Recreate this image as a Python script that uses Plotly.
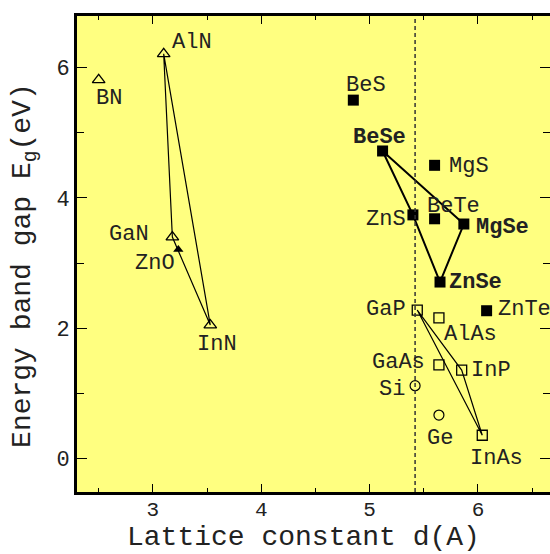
import plotly.graph_objects as go

# ---- data (lattice constant d in Angstrom, band gap Eg in eV) ----
nitride_names = ["BN", "AlN", "GaN", "InN"]
nitride_d = [2.50, 3.10, 3.18, 3.53]
nitride_eg = [5.81, 6.21, 3.40, 2.05]

zno_names = ["ZnO"]
zno_d = [3.235]
zno_eg = [3.21]

iivi_names = ["BeS", "BeSe", "MgS", "BeTe", "ZnS", "MgSe", "ZnSe", "ZnTe"]
iivi_d = [4.85, 5.12, 5.60, 5.60, 5.40, 5.87, 5.65, 6.08]
iivi_eg = [5.50, 4.72, 4.50, 3.68, 3.74, 3.60, 2.71, 2.27]

iiiv_names = ["GaP", "AlAs", "GaAs", "InP", "InAs"]
iiiv_d = [5.44, 5.64, 5.64, 5.85, 6.04]
iiiv_eg = [2.28, 2.16, 1.44, 1.36, 0.36]

elem_names = ["Si", "Ge"]
elem_d = [5.42, 5.64]
elem_eg = [1.12, 0.67]

si_lattice = 5.42

# polygons (by compound name)
nitride_poly = ["AlN", "GaN", "InN", "AlN"]
iivi_poly = ["BeSe", "ZnS", "ZnSe", "MgSe", "BeSe"]
iiiv_poly = ["GaP", "InP", "InAs", "GaP"]

bold_labels = {"BeSe", "MgSe", "ZnSe"}

x_title = "Lattice constant d(A)"
y_title = "Energy band gap E<sub>g</sub>(eV)"

x_range = [2.30, 6.665]
y_range = [-0.51, 6.79]

# label placement: (xanchor, xshift px, yshift px)
label_pos = {
    "BN": ("left", -5, -19),
    "AlN": ("left", 6, 11),
    "GaN": ("right", -21, 3),
    "ZnO": ("right", -1, -14),
    "InN": ("center", 7, -19),
    "BeS": ("center", 13, 15),
    "BeSe": ("center", -3, 13),
    "MgS": ("left", 12, -1),
    "BeTe": ("center", 19, 12),
    "ZnS": ("right", -5, -5),
    "MgSe": ("left", 10, -3),
    "ZnSe": ("left", 7, 0),
    "ZnTe": ("left", 9, 1),
    "GaP": ("right", -9, 1),
    "AlAs": ("left", 3, -17),
    "GaAs": ("right", -12, 2),
    "InP": ("left", 7, 0),
    "Si": ("right", -8, -4),
    "Ge": ("center", 1, -23),
    "InAs": ("center", 14, -23),
}

FONT = "Liberation Mono, Courier New, monospace"
lookup = {}
for names, ds, es in [(nitride_names, nitride_d, nitride_eg), (zno_names, zno_d, zno_eg),
                      (iivi_names, iivi_d, iivi_eg), (iiiv_names, iiiv_d, iiiv_eg),
                      (elem_names, elem_d, elem_eg)]:
    for n, d, e in zip(names, ds, es):
        lookup[n] = (d, e)

fig = go.Figure()

def poly(names, width):
    fig.add_trace(go.Scatter(
        x=[lookup[n][0] for n in names], y=[lookup[n][1] for n in names],
        mode="lines", line=dict(color="black", width=width),
        hoverinfo="skip", showlegend=False))

poly(nitride_poly, 1.2)
poly(iivi_poly, 2.0)
poly(iiiv_poly, 1.2)

fig.add_trace(go.Scatter(x=nitride_d, y=nitride_eg, mode="markers",
                         marker=dict(symbol="triangle-up-open", size=11, color="black",
                                     line=dict(width=1.3)), showlegend=False))
fig.add_trace(go.Scatter(x=zno_d, y=zno_eg, mode="markers",
                         marker=dict(symbol="triangle-up", size=9, color="black"), showlegend=False))
fig.add_trace(go.Scatter(x=iivi_d, y=iivi_eg, mode="markers",
                         marker=dict(symbol="square", size=11, color="black", line=dict(width=0)),
                         showlegend=False))
fig.add_trace(go.Scatter(x=iiiv_d, y=iiiv_eg, mode="markers",
                         marker=dict(symbol="square-open", size=10, color="black",
                                     line=dict(width=1.3)), showlegend=False))
fig.add_trace(go.Scatter(x=elem_d, y=elem_eg, mode="markers",
                         marker=dict(symbol="circle-open", size=10, color="black",
                                     line=dict(width=1.2)), showlegend=False))

fig.add_vline(x=si_lattice, line=dict(color="#333333", width=1.5, dash="4px,3px"))

for name, (d, e) in lookup.items():
    anchor, dx, dy = label_pos[name]
    txt = f"<b>{name}</b>" if name in bold_labels else name
    fig.add_annotation(x=d, y=e, xref="x", yref="y", text=txt, showarrow=False,
                       xanchor=anchor, yanchor="middle", xshift=dx, yshift=dy,
                       font=dict(family=FONT, size=22, color="#222222"))

# axis titles
fig.add_annotation(xref="paper", yref="paper", x=0.479, y=-0.096, text=x_title,
                   showarrow=False, xanchor="center", yanchor="middle",
                   font=dict(family=FONT, size=28, color="#222222"))
fig.add_annotation(xref="paper", yref="paper", x=-0.11, y=0.477, text=y_title,
                   showarrow=False, xanchor="center", yanchor="middle", textangle=-90,
                   font=dict(family=FONT, size=28, color="#222222"))

# right-side mirrored ticks without a visible line (edge is cropped)
fig.add_trace(go.Scatter(x=[None], y=[None], yaxis="y2", showlegend=False, hoverinfo="skip"))

fig.update_layout(
    width=550, height=554,
    margin=dict(l=77, r=0, t=16, b=62),
    paper_bgcolor="white",
    plot_bgcolor="#ffff80",
    showlegend=False,
    xaxis=dict(range=x_range, dtick=1, tick0=0, ticks="inside", ticklen=8, tickwidth=1.2,
               tickcolor="black", showline=True, linewidth=3, linecolor="black",
               mirror="ticks", showgrid=False, zeroline=False, ticklabelstandoff=-4,
               minor=dict(dtick=0.5, tick0=0, ticks="inside", ticklen=4, tickwidth=1.2,
                          tickcolor="black"),
               tickfont=dict(family=FONT, size=21, color="#222222")),
    yaxis=dict(range=y_range, dtick=2, tick0=0, ticks="inside", ticklen=10, tickwidth=1.2,
               tickcolor="black", showline=True, linewidth=3, linecolor="black",
               showgrid=False, zeroline=False,
               minor=dict(dtick=1, tick0=0, ticks="inside", ticklen=7, tickwidth=1.2,
                          tickcolor="black"),
               tickfont=dict(family=FONT, size=22, color="#222222")),
    yaxis2=dict(range=y_range, overlaying="y", side="right", dtick=2, tick0=0,
                ticks="inside", ticklen=10, tickwidth=1.2, tickcolor="black",
                showline=False, showgrid=False, zeroline=False, showticklabels=False,
                minor=dict(dtick=1, tick0=0, ticks="inside", ticklen=7, tickwidth=1.2,
                           tickcolor="black")),
)

fig.write_html("out.html")
